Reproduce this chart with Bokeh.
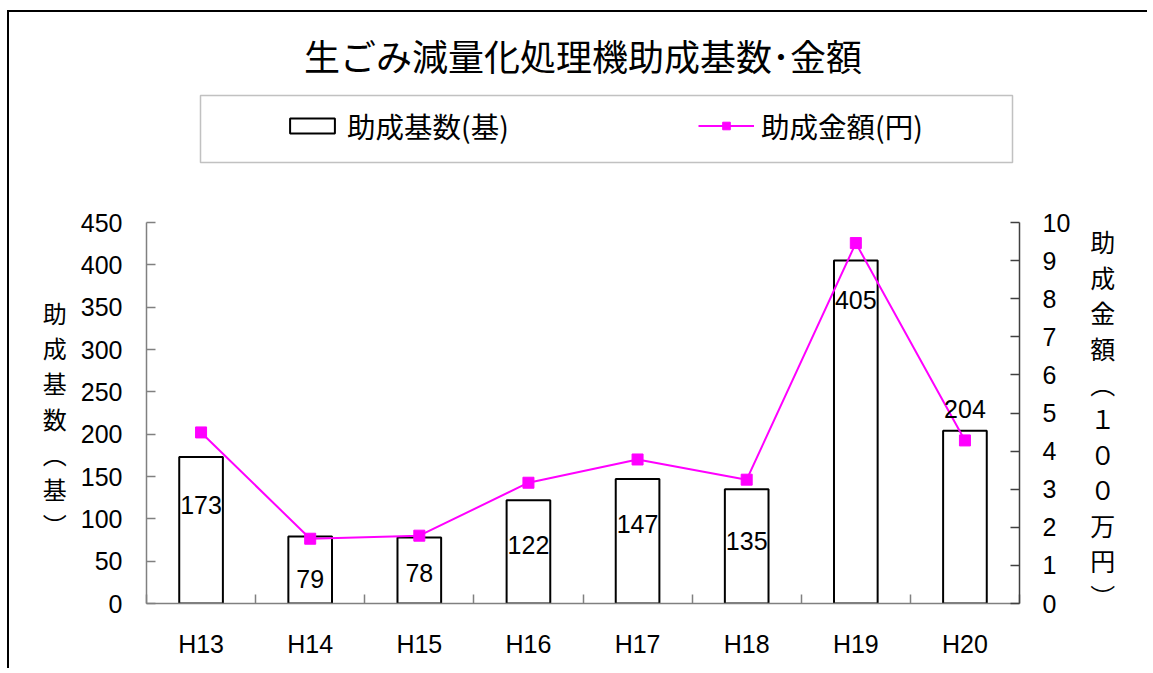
from bokeh.plotting import figure
from bokeh.models import (ColumnDataSource, Range1d, LinearAxis, FixedTicker,
                          CustomJSTickFormatter, Legend, LegendItem, BoxAnnotation, Title)
from bokeh.core.properties import value
from bokeh.embed import file_html
from bokeh.resources import INLINE

# ---- data ----
categories = ["H13", "H14", "H15", "H16", "H17", "H18", "H19", "H20"]
units_count = [173, 79, 78, 122, 147, 135, 405, 204]            # 助成基数(基)
amount_million = [4.49, 1.70, 1.78, 3.17, 3.78, 3.25, 9.46, 4.28]  # 助成金額(100万円)
left_ticks = [0, 50, 100, 150, 200, 250, 300, 350, 400, 450]
right_ticks = [0, 1, 2, 3, 4, 5, 6, 7, 8, 9, 10]
title_text = "生ごみ減量化処理機助成基数･金額"
bar_legend = "助成基数(基)"
line_legend = "助成金額(円)"
left_axis_title = ["助", "成", "基", "数", "︵", "基", "︶"]
right_axis_title = ["助", "成", "金", "額", "︵", "１", "０", "０", "万", "円", "︶"]

# ---- style / layout (pixels) ----
label_dy = [48, 42, 36, 45, 45, 52, 39, -22]   # pixel offsets of the bar value labels
LAT = "Liberation Sans"
CJK = "Noto Sans CJK JP"
MAGENTA = "#FF00FF"
W, H = 1140, 658
FRAME_TOP = 79          # canvas y of frame top (title sits above)
AXIS_TOP = 210          # canvas y where the value axes end (450 / 10)
FRAME_BOTTOM = 591      # canvas y of the zero line
FRAME_LEFT, FRAME_RIGHT = 137, 1010
PAD_LINES = 4           # blank lines that push the stacked axis titles down

left_max = max(left_ticks)
right_max = max(right_ticks)
scale = (FRAME_BOTTOM - FRAME_TOP) / (FRAME_BOTTOM - AXIS_TOP)

n = len(categories)
xs = [i + 0.5 for i in range(n)]
src = ColumnDataSource(dict(x=xs, count=units_count, amt=amount_million,
                            label=[str(v) for v in units_count], dy=label_dy))

p = figure(width=W, height=H, x_range=Range1d(0, n), y_range=Range1d(0, left_max * scale),
           output_backend="svg", toolbar_location=None,
           min_border_left=FRAME_LEFT, min_border_right=W - FRAME_RIGHT,
           min_border_top=FRAME_TOP, min_border_bottom=H - FRAME_BOTTOM,
           outline_line_color=None, background_fill_color="white", border_fill_color="white",
           styles={"margin-left": "7px", "margin-top": "10px",
                   "border-left": "2px solid black", "border-top": "2px solid black"})
p.extra_y_ranges = {"amt": Range1d(0, right_max * scale)}
p.xgrid.visible = False
p.ygrid.visible = False

p.title = Title(text=title_text, align="center", text_font=CJK, text_font_size="36px",
                text_font_style="normal", text_color="black", standoff=22)

# bottom axis
xa = p.xaxis[0]
xa.ticker = FixedTicker(ticks=xs, minor_ticks=list(range(n + 1)))
xa.formatter = CustomJSTickFormatter(args=dict(labels=categories),
                                     code="return labels[Math.floor(tick)];")
xa.major_tick_in = 0
xa.major_tick_out = 0
xa.minor_tick_in = 9
xa.minor_tick_out = 0
xa.axis_line_color = "#808080"
xa.axis_line_width = 1.5
xa.minor_tick_line_color = "#808080"
xa.minor_tick_line_width = 1.5
xa.major_label_text_font = LAT
xa.major_label_text_font_size = "25px"
xa.major_label_text_color = "black"
xa.major_label_standoff = 26

pad = ["\u3000"] * PAD_LINES

# left axis
ya = p.yaxis[0]
ya.bounds = (0, left_max)
ya.ticker = FixedTicker(ticks=left_ticks, minor_ticks=[])
ya.major_tick_in = 9
ya.major_tick_out = 0
ya.axis_line_color = "#808080"
ya.axis_line_width = 1.5
ya.major_tick_line_color = "#808080"
ya.major_tick_line_width = 1.5
ya.major_label_text_font = LAT
ya.major_label_text_font_size = "25px"
ya.major_label_text_color = "black"
ya.major_label_standoff = 24
ya.axis_label = "\n".join(pad + left_axis_title)
ya.axis_label_orientation = "horizontal"
ya.axis_label_text_font = CJK
ya.axis_label_text_font_size = "24px"
ya.axis_label_text_font_style = "normal"
ya.axis_label_text_color = "black"
ya.axis_label_text_line_height = 1.01
ya.axis_label_standoff = 11

# right axis
ra = LinearAxis(y_range_name="amt", ticker=FixedTicker(ticks=right_ticks, minor_ticks=[]),
                bounds=(0, right_max))
ra.major_tick_in = 9
ra.major_tick_out = 0
ra.axis_line_color = "#404040"
ra.axis_line_width = 1.5
ra.major_tick_line_color = "#404040"
ra.major_tick_line_width = 1.5
ra.major_label_text_font = LAT
ra.major_label_text_font_size = "25px"
ra.major_label_text_color = "black"
ra.major_label_standoff = 23
ra.axis_label = "\n".join(pad + right_axis_title)
ra.axis_label_orientation = "horizontal"
ra.axis_label_text_font = CJK
ra.axis_label_text_font_size = "25px"
ra.axis_label_text_font_style = "normal"
ra.axis_label_text_color = "black"
ra.axis_label_text_line_height = 0.985
ra.axis_label_standoff = 17
p.add_layout(ra, "right")

# glyphs
bars = p.vbar(x="x", top="count", width=0.4, source=src, fill_color="white",
              line_color="black", line_width=2)
line = p.line(x="x", y="amt", source=src, y_range_name="amt", line_color=MAGENTA, line_width=2)
marks = p.scatter(x="x", y="amt", source=src, y_range_name="amt", marker="square", size=11,
                  fill_color=MAGENTA, line_color=MAGENTA)
p.text(x="x", y="count", text="label", y_offset="dy", source=src, text_align="center",
       text_baseline="middle", text_font=value(LAT), text_font_size="25px", text_color="black")

# legend (inside the tall frame, above the axes)
legend = Legend(items=[LegendItem(label=bar_legend, renderers=[bars]),
                       LegendItem(label=line_legend, renderers=[line, marks])],
                orientation="horizontal", location=(138, 457),
                border_line_alpha=0, background_fill_alpha=0,
                glyph_width=56, glyph_height=19, label_standoff=7, label_width=351,
                spacing=0, padding=0, margin=0,
                label_text_font=CJK, label_text_font_size="28.5px", label_text_color="black")
p.add_layout(legend, "center")

legend_box = BoxAnnotation(left=189, right=1001, top=81, bottom=148,
                           left_units="canvas", right_units="canvas",
                           top_units="canvas", bottom_units="canvas",
                           fill_alpha=0, line_color="#333333", line_width=1.5)
p.add_layout(legend_box)

open("out.html", "w").write(file_html(p, INLINE))
